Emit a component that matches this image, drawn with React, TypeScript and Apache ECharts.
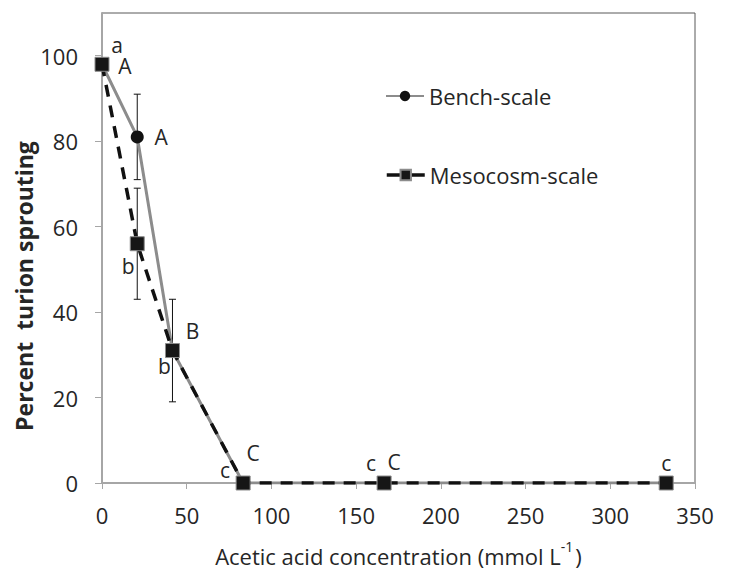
import { useEffect, useRef } from 'react';
import * as echarts from 'echarts';

// ---- data ----
const concentrations = [0, 20.8, 41.6, 83.3, 166.5, 333];
const benchScale = [98, 81, 31, 0, 0, 0];
const mesocosmScale = [98, 56, 31, 0, 0, 0];

// error bars: x, low, high
const errX = [20.8, 20.8, 41.6];
const errLow = [71, 43, 19];
const errHigh = [91, 69, 43];

const yTickValues = [0, 20, 40, 60, 80, 100];

// significance letters
const letterText = ['a', 'A', 'A', 'b', 'B', 'b', 'c', 'C', 'c', 'C', 'c'];
const letterX = [0, 0, 20.8, 20.8, 41.6, 41.6, 83.3, 83.3, 166.5, 166.5, 333];
const letterY = [98, 98, 81, 56, 31, 31, 0, 0, 0, 0, 0];
// pixel offsets of letters from their anchor point
const letterOffsets = [
  [15, -19], [23, 2], [24, 0], [-9, 22], [20, -20], [-8, 15],
  [-18, -13], [10, -30], [-13, -20], [10, -21], [0, -20],
];

const FONT = '"Open Sans", "Noto Sans", sans-serif';
const TXT = '#262626';

export default function App() {
  const ref = useRef<HTMLDivElement>(null);
  useEffect(() => {
    if (!ref.current) return;
    const chart = echarts.init(ref.current, null, { renderer: 'svg' });
    const legendText = { fontSize: 22, color: TXT, fontFamily: FONT };
    const option: any = {
      animation: false,
      backgroundColor: '#ffffff',
      textStyle: { fontFamily: FONT },
      grid: {
        left: 102, right: 34, top: 13, bottom: 88,
        show: true, borderColor: '#595959', borderWidth: 1,
        outerBoundsMode: 'none', containLabel: false,
      },
      legend: [
        {
          data: ['Bench-scale'], orient: 'vertical', left: 380, top: 80,
          itemWidth: 38, itemHeight: 13, itemGap: 4, textStyle: legendText,
        },
        {
          data: [{ name: 'Mesocosm-scale', lineStyle: { type: 'solid', width: 3.5, color: '#111111' } }],
          orient: 'vertical', left: 380, top: 159,
          itemWidth: 38, itemHeight: 13, itemGap: 4, textStyle: legendText,
        },
      ],
      xAxis: {
        type: 'value', min: 0, max: 350, interval: 50,
        name: '{t|Acetic acid concentration (mmol L}{s|-1}{t|)}',
        nameLocation: 'middle', nameGap: 56,
        nameTextStyle: {
          rich: {
            t: { fontSize: 22, color: TXT, fontFamily: FONT, lineHeight: 28, verticalAlign: 'bottom' },
            s: { fontSize: 14, color: TXT, fontFamily: FONT, lineHeight: 14, verticalAlign: 'top', padding: [0, 2, 0, 0] },
          },
        },
        axisLine: { show: true, lineStyle: { color: '#a6a6a6', width: 2 } },
        axisTick: { show: true, length: 6, lineStyle: { color: '#a6a6a6', width: 1 } },
        axisLabel: { fontSize: 22, color: TXT, margin: 21, fontFamily: FONT },
        splitLine: { show: false },
      },
      yAxis: {
        type: 'value', min: 0, max: 110,
        axisLine: { show: true, lineStyle: { color: '#a6a6a6', width: 2 } },
        axisTick: { show: true, length: 7, customValues: yTickValues, lineStyle: { color: '#a6a6a6', width: 1 } },
        axisLabel: { fontSize: 22, color: TXT, margin: 24, customValues: yTickValues, fontFamily: FONT },
        splitLine: { show: false },
      },
      graphic: [
        {
          type: 'text', x: 24, y: 286, rotation: Math.PI / 2,
          style: {
            text: 'Percent  turion sprouting', fontSize: 23, fontWeight: 'bold',
            fill: TXT, fontFamily: FONT, align: 'center', verticalAlign: 'middle',
          },
        },
      ],
      series: [
        {
          type: 'custom', name: 'errors', z: 1, silent: true,
          data: errX.map((x, i) => [x, errLow[i], errHigh[i]]),
          renderItem: (params: any, api: any) => {
            const top = api.coord([api.value(0), api.value(2)]);
            const bot = api.coord([api.value(0), api.value(1)]);
            const w = 3.5;
            const st = { stroke: '#111', lineWidth: 1 };
            return {
              type: 'group',
              children: [
                { type: 'line', shape: { x1: top[0], y1: top[1], x2: bot[0], y2: bot[1] }, style: st },
                { type: 'line', shape: { x1: top[0] - w, y1: top[1], x2: top[0] + w, y2: top[1] }, style: st },
                { type: 'line', shape: { x1: bot[0] - w, y1: bot[1], x2: bot[0] + w, y2: bot[1] }, style: st },
              ],
            };
          },
        },
        {
          type: 'line', name: 'Bench-scale', z: 2,
          data: concentrations.map((x, i) => [x, benchScale[i]]),
          symbol: 'circle', symbolSize: 13,
          itemStyle: { color: '#111111' },
          lineStyle: { color: '#8c8c8c', width: 3 },
        },
        {
          type: 'line', name: 'Mesocosm-scale', z: 3,
          data: concentrations.map((x, i) => [x, mesocosmScale[i]]),
          symbol: 'rect', symbolSize: 14,
          itemStyle: { color: '#161616', borderColor: '#8c8c8c', borderWidth: 1 },
          lineStyle: { color: '#111111', width: 3.5, type: [12, 9] },
        },
        {
          type: 'custom', name: 'letters', z: 4, silent: true,
          data: letterX.map((x, i) => [x, letterY[i], i]),
          renderItem: (params: any, api: any) => {
            const i = api.value(2);
            const p = api.coord([api.value(0), api.value(1)]);
            const o = letterOffsets[i];
            return {
              type: 'text', x: p[0] + o[0], y: p[1] + o[1],
              style: {
                text: letterText[i], fontSize: 21, fill: TXT, fontFamily: FONT,
                align: 'center', verticalAlign: 'middle',
              },
            };
          },
        },
      ],
    };
    chart.setOption(option);
    return () => chart.dispose();
  }, []);
  return (
    <div
      ref={ref}
      style={{ position: 'absolute', left: 0, top: 0, width: 729, height: 571, background: '#fff' }}
    />
  );
}
